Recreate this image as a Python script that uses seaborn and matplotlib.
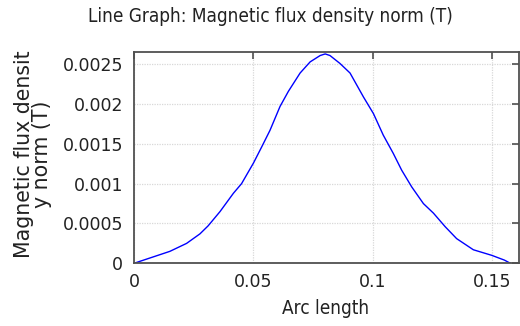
import matplotlib
matplotlib.use("Agg")
import matplotlib.pyplot as plt
import seaborn as sns
import pandas as pd

arc_length = [0, 0.004, 0.008, 0.015, 0.022, 0.0276, 0.031, 0.036, 0.0416, 0.045,
              0.05, 0.0534, 0.0569, 0.0611, 0.0646, 0.0695, 0.0737, 0.0779, 0.080, 0.082,
              0.0862, 0.0904, 0.096, 0.1002, 0.1043, 0.1085, 0.112, 0.1162, 0.1211,
              0.1253, 0.1302, 0.135, 0.142, 0.1497, 0.155, 0.1575]
flux_norm = [0, 0.00004, 0.00008, 0.00015, 0.00025, 0.00037, 0.00047, 0.00065, 0.00088, 0.001,
             0.00126, 0.00146, 0.00167, 0.00197, 0.00216, 0.00239, 0.00253, 0.00261, 0.00263, 0.00261,
             0.00251, 0.00239, 0.00209, 0.00188, 0.00161, 0.00138, 0.00117, 0.00096, 0.00075,
             0.00063, 0.00046, 0.00031, 0.00017, 0.0001, 0.00004, 0.0]

x_ticks = [0, 0.05, 0.1, 0.15]
x_tick_labels = ["0", "0.05", "0.1", "0.15"]
y_ticks = [0, 0.0005, 0.001, 0.0015, 0.002, 0.0025]
y_tick_labels = ["0", "0.0005", "0.001", "0.0015", "0.002", "0.0025"]

title = "Line Graph: Magnetic flux density norm (T)"
x_label = "Arc length"
y_label = "Magnetic flux densit\ny norm (T)"

sns.set_style("white")
plt.rcParams['font.family'] = ['DejaVu Sans']

df = pd.DataFrame({"x": arc_length, "y": flux_norm})

fig = plt.figure(figsize=(5.2, 3.26), dpi=100)
ax = fig.add_axes([134/520, 1-263.3/326, (519-134)/520, (263.3-51.7)/326])
sns.lineplot(data=df, x="x", y="y", ax=ax, color="#0000ff", linewidth=1.0)

ax.set_xlim(0, 0.1611)
ax.set_ylim(0, 0.002658)
ax.set_xticks(x_ticks)
ax.set_xticklabels(x_tick_labels)
ax.set_yticks(y_ticks)
ax.set_yticklabels(y_tick_labels)
ax.set_xlabel("")
ax.set_ylabel("")

ax.grid(True, color="#d8d8d8", linestyle=(0, (1, 1)), linewidth=0.9)
for s in ax.spines.values():
    s.set_color("#505050")
    s.set_linewidth(1.3)
ax.tick_params(direction="in", length=5, width=1.2, color="#505050",
               top=True, right=True, labelsize=12.5, labelcolor="#222222")
ax.tick_params(axis="y", pad=8)
ax.tick_params(axis="x", pad=7)

fig.text(270/520, 1-17/326, title, ha="center", va="center", fontsize=13.6,
         fontstretch="condensed", color="#222222")
fig.text(326/520, 1-308/326, x_label, ha="center", va="center", fontsize=13.6,
         fontstretch="condensed", color="#222222")
fig.text(33/520, 1-154/326, y_label, ha="center", va="center", rotation=90,
         multialignment="center", fontsize=14.8, color="#222222", linespacing=0.85)

fig.savefig("out.png", dpi=100)
